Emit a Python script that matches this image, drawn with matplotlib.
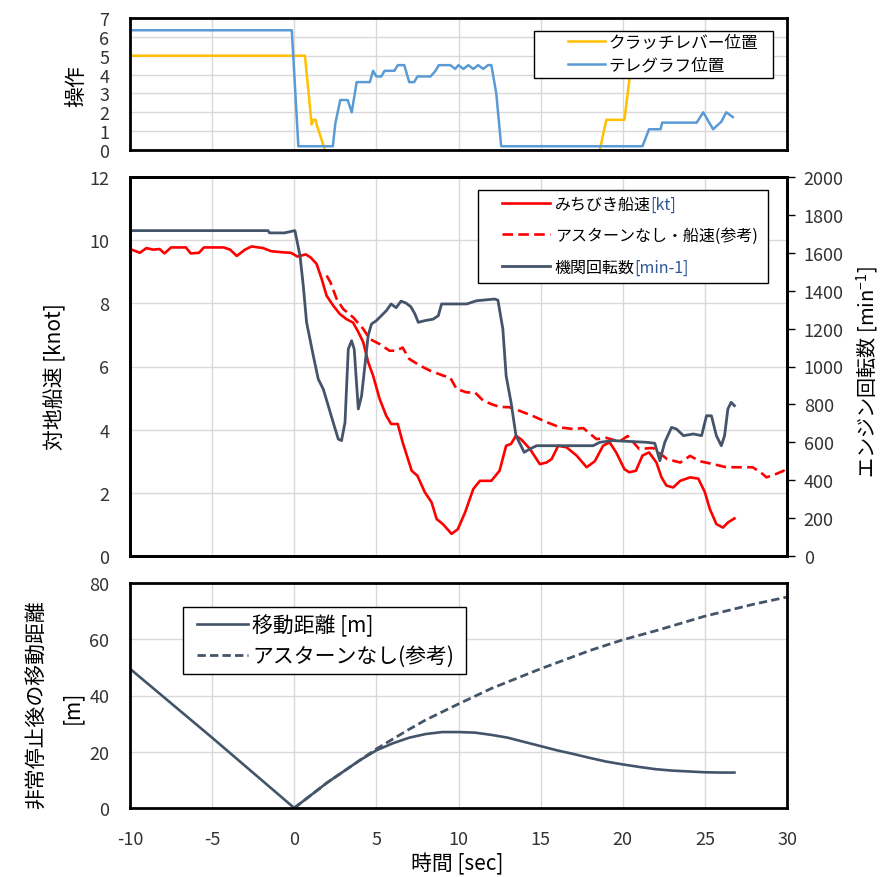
import matplotlib
matplotlib.use('Agg')
import matplotlib.pyplot as plt
from matplotlib.offsetbox import HPacker, TextArea
from matplotlib.patches import Rectangle

plt.rcParams['font.family'] = ['Noto Sans CJK JP', 'DejaVu Sans']
plt.rcParams['axes.unicode_minus'] = False

# ---- data ----
# top panel: clutch lever / telegraph position
clutch_t = [-10, 0.65, 1.06, 1.17, 1.30, 1.38, 1.87, 2.0, 18.4, 18.6, 19.0, 20.1, 20.4, 20.6, 26.8]
clutch_v = [5, 5, 1.35, 1.6, 1.6, 1.3, 0, -0.5, -0.5, 0, 1.6, 1.6, 3.7, 5, 5]

tele_t = [-10, -0.15, 0.25, 2.35, 2.5, 2.8, 3.25, 3.5, 3.8, 4.6, 4.8, 5.0, 5.3, 5.5, 6.1, 6.3,
          6.7, 7.0, 7.3, 7.5, 8.3, 8.6, 8.8, 9.5, 9.8, 10.0, 10.3, 10.6, 10.9, 11.2, 11.5,
          11.8, 12.0, 12.3, 12.6, 21.2, 21.6, 22.3, 22.4, 24.5, 24.9, 25.1, 25.5, 26.0, 26.3, 26.7]
tele_v = [6.35, 6.35, 0.2, 0.2, 1.4, 2.65, 2.65, 2.0, 3.6, 3.6, 4.2, 3.9, 3.9, 4.2, 4.2, 4.5,
          4.5, 3.6, 3.6, 3.9, 3.9, 4.2, 4.5, 4.5, 4.3, 4.5, 4.3, 4.5, 4.3, 4.5, 4.3,
          4.5, 4.5, 3.0, 0.2, 0.2, 1.1, 1.1, 1.45, 1.45, 2.0, 1.7, 1.1, 1.5, 2.0, 1.75]

# middle panel: ship speed [kt]
speed_t = [-10, -9.4, -9.0, -8.6, -8.2, -7.9, -7.5, -6.6, -6.3, -5.8, -5.5, -4.3, -3.9, -3.5,
           -3.0, -2.6, -1.9, -1.4, -0.8, -0.2, 0.2, 0.7, 1.0, 1.36, 1.67, 1.97, 2.37, 2.78,
           3.18, 3.58, 3.9, 4.2, 4.5, 4.8, 5.2, 5.6, 5.9, 6.3, 6.6, 7.15, 7.5, 7.95, 8.36,
           8.67, 9.05, 9.58, 9.96, 10.4, 10.9, 11.3, 12.0, 12.5, 12.9, 13.2, 13.5, 13.84,
           14.35, 14.95, 15.36, 15.67, 16.07, 16.58, 17.19, 17.8, 18.3, 18.8, 19.2, 19.6,
           20.1, 20.4, 20.8, 21.2, 21.6, 22.05, 22.36, 22.66, 23.07, 23.5, 24.1, 24.6, 25.0,
           25.3, 25.7, 26.1, 26.4, 26.8]
speed_v = [9.72, 9.6, 9.75, 9.7, 9.72, 9.58, 9.77, 9.77, 9.58, 9.6, 9.77, 9.77, 9.7, 9.5,
           9.7, 9.8, 9.75, 9.65, 9.62, 9.6, 9.48, 9.55, 9.45, 9.25, 8.77, 8.24, 7.93, 7.66,
           7.5, 7.39, 7.09, 6.77, 6.14, 5.71, 4.97, 4.44, 4.18, 4.18, 3.6, 2.7, 2.54, 2.02,
           1.7, 1.17, 1.01, 0.7, 0.85, 1.38, 2.12, 2.38, 2.38, 2.7, 3.49, 3.55, 3.81, 3.68,
           3.39, 2.91, 2.96, 3.07, 3.49, 3.44, 3.18, 2.81, 3.0, 3.49, 3.6, 3.28,
           2.75, 2.65, 2.7, 3.18, 3.28, 2.96, 2.49, 2.23, 2.17, 2.38, 2.49, 2.45, 2.02,
           1.49, 1.01, 0.9, 1.06, 1.19]

noastern_t = [1.97, 2.2, 2.58, 2.98, 3.58, 4.2, 4.6, 5.2, 5.8, 6.2, 6.6, 7.0, 7.65, 8.26, 9.07,
              9.48, 9.88, 10.5, 11.0, 11.5, 12.0, 12.5, 13.1, 13.7, 14.5, 15.4, 16.2, 17.0,
              17.6, 18.4, 19.0, 19.8, 20.3, 21.0, 21.85, 22.7, 23.5, 24.1, 24.7, 25.5, 26.3,
              27.1, 27.9, 28.4, 28.75, 29.35, 29.8, 30.0]
noastern_v = [8.88, 8.67, 8.14, 7.82, 7.56, 7.19, 6.87, 6.71, 6.5, 6.5, 6.6, 6.24, 6.03, 5.87,
              5.71, 5.66, 5.29, 5.18, 5.18, 4.92, 4.81, 4.72, 4.71, 4.6, 4.44, 4.23, 4.07,
              4.02, 4.05, 3.7, 3.74, 3.62, 3.8, 3.39, 3.42, 3.07, 2.96, 3.17, 3.0, 2.91, 2.81,
              2.81, 2.81, 2.65, 2.49, 2.6, 2.7, 2.6]

# engine revolutions [min-1]
rpm_t = [-10, -1.6, -1.5, -0.6, 0.04, 0.35, 0.55, 0.75, 1.16, 1.46, 1.77, 2.07, 2.37, 2.68,
         2.88, 3.09, 3.29, 3.49, 3.65, 3.9, 4.1, 4.3, 4.5, 4.7, 5.0, 5.3, 5.6, 5.9, 6.2, 6.5,
         6.8, 7.1, 7.35, 7.55, 7.95, 8.46, 8.77, 8.97, 9.48, 10.5, 11.1, 12.2, 12.4, 12.7,
         12.9, 13.2, 13.5, 13.7, 14.0, 14.35, 14.76, 18.2, 18.6, 19.4, 21.45, 21.95, 22.26,
         22.56, 22.97, 23.27, 23.7, 24.3, 24.8, 25.1, 25.4, 25.7, 26.0, 26.2, 26.4, 26.6, 26.8]
rpm_v = [1717, 1717, 1705, 1705, 1717, 1585, 1426, 1233, 1057, 934, 880, 793, 705, 617,
         609, 705, 1092, 1136, 1092, 776, 846, 1004, 1163, 1224, 1242, 1268, 1294, 1330, 1310,
         1345, 1335, 1315, 1277, 1233, 1242, 1250, 1268, 1330, 1330, 1330, 1347, 1356, 1350,
         1198, 951, 810, 635, 600, 547, 565, 582, 582, 600, 609, 600, 595, 503, 600, 679, 670,
         635, 644, 635, 740, 740, 635, 582, 635, 776, 811, 793]

# bottom panel: distance after emergency stop [m]
dist_t = [-10, -5, 0, 1, 2, 3, 4, 5, 6, 7, 8, 9, 10, 11, 12, 13, 14, 15, 16, 17, 18, 19, 20,
          21, 22, 23, 24, 25, 26, 26.8]
dist_v = [49.5, 25, 0, 4.5, 9, 13, 17, 20.5, 23, 25, 26.3, 27, 27, 26.8, 26, 25, 23.5, 22,
          20.5, 19.2, 17.8, 16.5, 15.5, 14.6, 13.8, 13.3, 13.0, 12.7, 12.6, 12.6]

dist_na_t = [0, 1, 2, 3, 4, 5, 6, 7, 8, 10, 12, 15, 18, 20, 22, 25, 28, 30]
dist_na_v = [0, 4.5, 9, 13, 17, 21, 24.5, 28, 31.3, 37, 42.5, 49.5, 56, 59.8, 63, 68.2, 72.5, 75]

xticks = [-10, -5, 0, 5, 10, 15, 20, 25, 30]

RED = '#ff0000'
GREY = '#44546a'
ORANGE = '#ffc000'
BLUE = '#5b9bd5'
TICKC = '#333333'
GRIDC = '#d9d9d9'

W, H = 884, 878
fig = plt.figure(figsize=(W / 100, H / 100), dpi=100)
# axes boxes in pixels: (left, top, right, bottom)
top_px = (130, 19, 787, 151)
mid_px = (130, 178, 787, 557)
bot_px = (130, 584, 787, 809)


def add_axes(px):
    l, t, r, b = px
    return fig.add_axes([l / W, 1 - b / H, (r - l) / W, (b - t) / H])


ax_top = add_axes(top_px)
ax_mid = add_axes(mid_px)
ax_bot = add_axes(bot_px)


def to_axes(px, x, y):
    l, t, r, b = px
    return (x - l) / (r - l), (b - y) / (b - t)


def style(ax):
    for s in ax.spines.values():
        s.set_linewidth(2.0)
        s.set_color('black')
    ax.grid(True, color=GRIDC, lw=1)
    ax.set_axisbelow(True)
    ax.set_xlim(-10, 30)
    ax.set_xticks(xticks)
    ax.tick_params(axis='both', length=0, labelsize=13, labelcolor=TICKC)
    ax.tick_params(axis='y', pad=15)
    ax.tick_params(axis='x', pad=16)


def legend_box(ax, px, box, anchor, **kw):
    # Excel-like legend: white framed box with the entries placed inside it
    x0, y0, x1, y1 = box
    ax0, ay0 = to_axes(px, x0, y1)
    ax1, ay1 = to_axes(px, x1, y0)
    ax.add_patch(Rectangle((ax0, ay0), ax1 - ax0, ay1 - ay0, transform=ax.transAxes,
                           facecolor='white', edgecolor='black', lw=1.0, zorder=4.5,
                           clip_on=False))
    leg = ax.legend(loc='center left', bbox_to_anchor=to_axes(px, *anchor), borderaxespad=0,
                    borderpad=0, frameon=False, **kw)
    leg.set_zorder(5)
    return leg


def color_legend_suffix(leg, parts, color):
    # give the bracket part of some legend labels its own colour
    rows = leg._legend_handle_box.get_children()[0].get_children()
    for row, part in zip(rows, parts):
        if part is None:
            continue
        pre, suf = part
        tp = dict(verticalalignment='baseline', horizontalalignment='left',
                  fontproperties=leg.prop)
        a = TextArea(pre, textprops=dict(tp, color='black'))
        b = TextArea(suf, textprops=dict(tp, color=color))
        box = HPacker(pad=0, sep=0, align='baseline', children=[a, b])
        box.set_figure(fig)
        row._children[1] = box


# ---- top panel ----
style(ax_top)
ax_top.set_ylim(0, 7)
ax_top.set_yticks(range(0, 8))
ax_top.set_xticklabels([])
ax_top.plot(clutch_t, clutch_v, color=ORANGE, lw=1.8, label='クラッチレバー位置')
ax_top.plot(tele_t, tele_v, color=BLUE, lw=1.8, label='テレグラフ位置')
legend_box(ax_top, top_px, (534, 32, 773, 79), (568, 55), fontsize=12,
           handlelength=2.2, labelspacing=0.36, handletextpad=0.2)

# ---- middle panel ----
style(ax_mid)
ax_mid.set_ylim(0, 12)
ax_mid.set_yticks(range(0, 13, 2))
ax_mid.set_xticklabels([])
l1, = ax_mid.plot(speed_t, speed_v, color=RED, lw=1.9, label='みちびき船速[kt]')
l2, = ax_mid.plot(noastern_t, noastern_v, color=RED, lw=1.9, ls=(0, (4, 2)),
                  label='アスターンなし・船速(参考)')
ax_rpm = ax_mid.twinx()
ax_rpm.set_ylim(0, 2000)
ax_rpm.set_yticks(range(0, 2001, 200))
for s in ax_rpm.spines.values():
    s.set_linewidth(2.0)
ax_rpm.tick_params(axis='y', direction='out', length=6, width=1, pad=6,
                   labelsize=13, labelcolor=TICKC)
l3, = ax_rpm.plot(rpm_t, rpm_v, color=GREY, lw=2.0, label='機関回転数[min-1]')
leg = legend_box(ax_rpm, mid_px, (478, 191, 768, 284), (502, 236.5),
                 handles=[l1, l2, l3], fontsize=11.5, handlelength=3.0,
                 labelspacing=0.9, handletextpad=0.3)
color_legend_suffix(leg, [('みちびき船速', '[kt]'), None, ('機関回転数', '[min-1]')], '#2f5597')

# ---- bottom panel ----
style(ax_bot)
ax_bot.set_ylim(0, 80)
ax_bot.set_yticks(range(0, 81, 20))
ax_bot.plot(dist_t, dist_v, color=GREY, lw=1.9, label='移動距離 [m]')
ax_bot.plot(dist_na_t, dist_na_v, color=GREY, lw=2.0, ls=(0, (3, 1.5)),
            label='アスターンなし(参考)')
legend_box(ax_bot, bot_px, (183, 608, 466, 675), (197, 641.5), fontsize=15,
           handlelength=2.45, labelspacing=0.42, handletextpad=0.2)

# ---- axis titles ----
fig.text(76 / W, 1 - 86 / H, '操作', rotation=90, ha='center', va='center', fontsize=15)
fig.text(55 / W, 1 - 377 / H, '対地船速 [knot]', rotation=90, ha='center', va='center',
         fontsize=15)
fig.text(868 / W, 1 - 372 / H, 'エンジン回転数 [min$^{\\mathregular{-1}}$]', rotation=90,
         ha='center', va='center', fontsize=14.5)
fig.text(37 / W, 1 - 705 / H, '非常停止後の移動距離', rotation=90, ha='center', va='center',
         fontsize=15)
fig.text(72 / W, 1 - 707 / H, '[m]', rotation=90, ha='center', va='center', fontsize=15)
fig.text(457 / W, 1 - 864 / H, '時間 [sec]', ha='center', va='center', fontsize=15)

fig.savefig('out.png', dpi=100)
